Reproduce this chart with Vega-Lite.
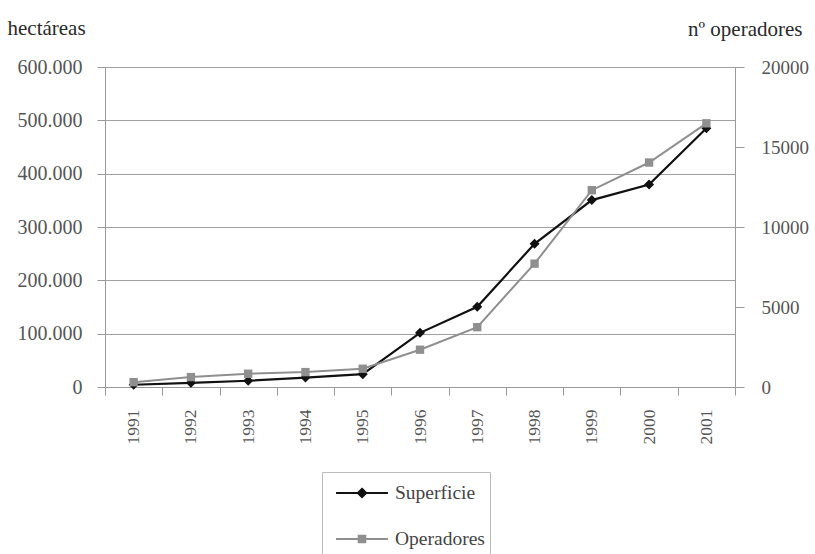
{
  "$schema": "https://vega.github.io/schema/vega-lite/v6.json",
  "width": 630,
  "height": 320,
  "autosize": {"type": "none"},
  "padding": {"left": 105, "top": 67, "right": 80, "bottom": 167},
  "background": "white",
  "config": {
    "locale": {"number": {"decimal": ",", "thousands": ".", "grouping": [3], "currency": ["", "€"]}},
    "view": {"stroke": null},
    "font": "Liberation Serif",
    "axis": {
      "labelFont": "Liberation Serif",
      "titleFont": "Liberation Serif",
      "domainColor": "#999999",
      "tickColor": "#999999",
      "gridColor": "#a0a0a0",
      "labelColor": "#555555",
      "titleColor": "#2a2a2a",
      "titleFontWeight": "normal"
    },
    "legend": {
      "labelFont": "Liberation Serif",
      "labelFontSize": 19.5,
      "labelColor": "#444444"
    }
  },
  "data": {
    "values": [
      {"year": "1991", "superficie": 4200, "operadores": 300},
      {"year": "1992", "superficie": 7900, "operadores": 620},
      {"year": "1993", "superficie": 11700, "operadores": 830},
      {"year": "1994", "superficie": 17700, "operadores": 930},
      {"year": "1995", "superficie": 24100, "operadores": 1140},
      {"year": "1996", "superficie": 101500, "operadores": 2330},
      {"year": "1997", "superficie": 150500, "operadores": 3740},
      {"year": "1998", "superficie": 268500, "operadores": 7710},
      {"year": "1999", "superficie": 350500, "operadores": 12300},
      {"year": "2000", "superficie": 379500, "operadores": 14030},
      {"year": "2001", "superficie": 485200, "operadores": 16480}
    ]
  },
  "encoding": {
    "x": {
      "field": "year",
      "type": "ordinal",
      "scale": {"type": "band", "paddingInner": 0, "paddingOuter": 0},
      "axis": {
        "title": null,
        "labelAngle": -90,
        "tickBand": "extent",
        "tickSize": 8,
        "labelPadding": 14,
        "labelFontSize": 17.5,
        "grid": false
      }
    }
  },
  "layer": [
    {
      "encoding": {
        "y": {
          "field": "superficie",
          "type": "quantitative",
          "scale": {"domain": [0, 600000], "nice": false, "zero": true},
          "axis": {
            "orient": "left",
            "values": [0, 100000, 200000, 300000, 400000, 500000, 600000],
            "format": ",d",
            "grid": true,
            "tickSize": 8,
            "labelPadding": 15,
            "labelFontSize": 20,
            "title": "hectáreas",
            "titleAngle": 0,
            "titleX": -98,
            "titleY": -33,
            "titleAlign": "left",
            "titleBaseline": "alphabetic",
            "titleFontSize": 21
          }
        },
        "color": {
          "datum": "Superficie",
          "type": "nominal",
          "scale": {"domain": ["Superficie", "Operadores"], "range": ["#111111", "#8f8f8f"]},
          "legend": {
            "title": null,
            "orient": "none",
            "legendX": 217,
            "legendY": 405,
            "direction": "vertical",
            "symbolSize": 900,
            "symbolOffset": 19,
            "labelOffset": 17,
            "rowPadding": 20,
            "padding": 5,
            "strokeColor": "#bbbbbb",
            "labelFont": "Liberation Serif",
            "labelFontSize": 19.5,
            "labelColor": "#444444",
            "labelLimit": 300,
            "encode": {
              "symbols": {
                "update": {
                  "shape": {"signal": "datum.value === 'Superficie' ? 'M-1.73,0H1.73M0,-0.28L0.28,0L0,0.28L-0.28,0Z' : 'M-1.73,0H1.73M-0.22,-0.22H0.22V0.22H-0.22Z'"},
                  "fill": {"signal": "datum.value === 'Superficie' ? '#111111' : '#8f8f8f'"},
                  "stroke": {"signal": "datum.value === 'Superficie' ? '#111111' : '#8f8f8f'"},
                  "strokeWidth": {"value": 2},
                  "opacity": {"value": 1}
                }
              }
            }
          }
        }
      },
      "layer": [
        {"mark": {"type": "line", "strokeWidth": 2.2}},
        {"mark": {"type": "point", "shape": "diamond", "filled": true, "size": 100, "opacity": 1}}
      ]
    },
    {
      "encoding": {
        "y": {
          "field": "operadores",
          "type": "quantitative",
          "scale": {"domain": [0, 20000], "nice": false, "zero": true},
          "axis": {
            "orient": "right",
            "values": [0, 5000, 10000, 15000, 20000],
            "format": "d",
            "grid": false,
            "tickSize": 9,
            "labelPadding": 17,
            "labelFontSize": 19,
            "title": "nº operadores",
            "titleAngle": 0,
            "titleX": 67,
            "titleY": -32,
            "titleAlign": "right",
            "titleBaseline": "alphabetic",
            "titleFontSize": 21
          }
        },
        "color": {
          "datum": "Operadores",
          "type": "nominal"
        }
      },
      "layer": [
        {"mark": {"type": "line", "strokeWidth": 2}},
        {"mark": {"type": "point", "shape": "square", "filled": true, "size": 70, "opacity": 1}}
      ]
    }
  ],
  "resolve": {"scale": {"y": "independent"}}
}
